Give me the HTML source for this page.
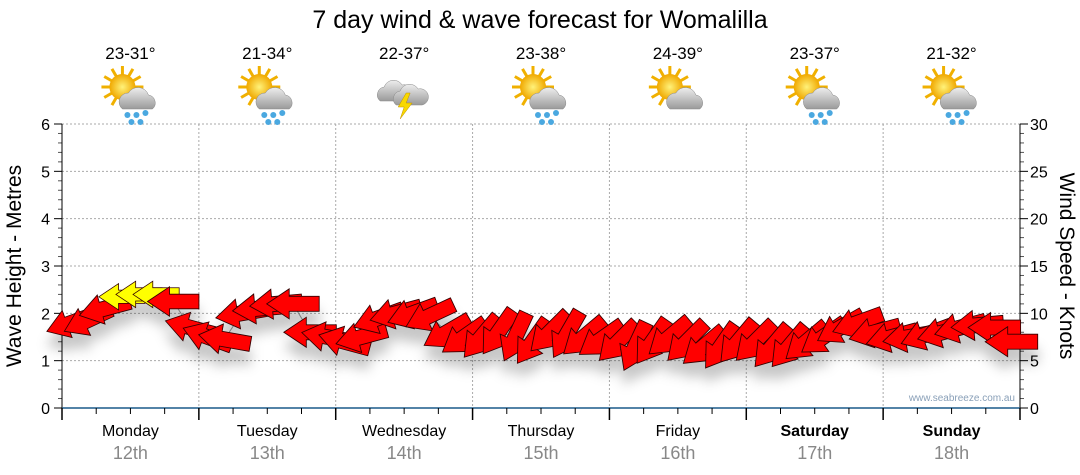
<!DOCTYPE html>
<html><head><meta charset="utf-8"><style>
body{margin:0;background:#fff;}
svg{font-family:"Liberation Sans","DejaVu Sans",sans-serif;display:block}
</style></head><body>
<svg id="c" width="1080" height="475" viewBox="0 0 1080 475">
<defs>
<filter id="sh" x="-50%" y="-50%" width="200%" height="250%"><feDropShadow dx="0" dy="14" stdDeviation="6" flood-color="#000" flood-opacity="0.22"/></filter>
<radialGradient id="sun" cx="50%" cy="50%" r="50%"><stop offset="0" stop-color="#fff27a"/><stop offset="1" stop-color="#f0a800"/></radialGradient>
<linearGradient id="cloud" x1="0" y1="0" x2="0" y2="1"><stop offset="0" stop-color="#eee"/><stop offset="1" stop-color="#9a9a9a"/></linearGradient>
</defs>
<text x="540" y="28" text-anchor="middle" font-size="25">7 day wind &amp; wave forecast for Womalilla</text>
<g id="grid"></g><g id="axes"></g><g id="header"></g>
<text transform="translate(21,266) rotate(-90)" text-anchor="middle" font-size="21">Wave Height - Metres</text>
<text transform="translate(1060,266) rotate(90)" text-anchor="middle" font-size="21">Wind Speed - Knots</text>
<text x="1015" y="401" text-anchor="end" font-size="10" fill="#8aa0b8">www.seabreeze.com.au</text>
<g id="series"></g>
</svg>
<script>
const days=["Monday","Tuesday","Wednesday","Thursday","Friday","Saturday","Sunday"];
const dates=["12th","13th","14th","15th","16th","17th","18th"];
const temps=["23-31°","21-34°","22-37°","23-38°","24-39°","23-37°","21-32°"];
const icons=["sunrain","sunrain","storm","sunrain","suncloud","sunrain","sunrain"];
const waveTicks=[0,1,2,3,4,5,6];
const windTicks=[0,5,10,15,20,25,30];
const waveHeight=[1.8,1.85,2.1,2.35,2.4,2.4,2.25,1.7,
1.5,1.45,2.0,2.1,2.2,2.2,1.6,1.5,
1.4,1.5,1.9,2.0,2.0,1.95,1.6,1.5,
1.5,1.6,1.5,1.4,1.6,1.55,1.5,1.45,
1.4,1.3,1.4,1.5,1.4,1.3,1.3,1.4,
1.4,1.3,1.3,1.4,1.5,1.7,1.8,1.6,
1.5,1.5,1.55,1.6,1.7,1.75,1.7,1.4];
const windDir=[-20,-25,-15,0,0,0,0,15,
20,10,-10,-5,-5,0,0,10,
15,-15,-20,-15,-20,-25,-30,-35,
-50,-55,-65,-55,-45,-60,-40,-35,
-45,-65,-55,-40,-45,-40,-55,-50,
-45,-50,-50,-40,-35,-30,-20,-15,
-15,-10,-20,-15,-15,-5,0,0];
const windSpeed=[10,11,12,6,6,6,11,11,
11,12,12,12,12,12,12,11,
12,12,12,12,12,12,12,12,
12,12,12,12,12,12,12,12,
12,12,12,12,12,12,12,12,
12,12,12,12,12,12,12,12,
12,12,12,12,12,12,12,12];

const NS="http://www.w3.org/2000/svg";
const X0=62,X1=1020,Y0=408,Y1=124;
const dayW=(X1-X0)/7;
const yW=v=>Y0-(v/6)*(Y0-Y1);
const yK=v=>Y0-(v/30)*(Y0-Y1);
const xT=i=>X0+(i+0.5)*dayW/8;
function mk(t,a,p){const e=document.createElementNS(NS,t);for(const k in a)e.setAttribute(k,a[k]);(p||document.getElementById('c')).appendChild(e);return e;}
const grid=document.getElementById('grid'),axes=document.getElementById('axes'),hdr=document.getElementById('header'),ser=document.getElementById('series');
waveTicks.forEach(v=>{
 if(v>0){const g=mk('line',{x1:X0,x2:X1,y1:yW(v),y2:yW(v),stroke:'#aaa','stroke-dasharray':'2,2'},grid);
 
 }
 const t=mk('text',{x:X0-12,y:yW(v)+6,'text-anchor':'end','font-size':16},axes);t.textContent=v;
 
 
 mk('line',{x1:X0-8,x2:X0,y1:yW(v),y2:yW(v),stroke:'#000'},axes);
 for(let k=1;k<5&&v<6;k++)mk('line',{x1:X0-4,x2:X0,y1:yW(v+k/5),y2:yW(v+k/5),stroke:'#555'},axes);
});
windTicks.forEach(v=>{
 const t=mk('text',{x:X1+10,y:yK(v)+6,'font-size':16},axes);t.textContent=v;
 
 
 mk('line',{x1:X1,x2:X1+8,y1:yK(v),y2:yK(v),stroke:'#000'},axes);
 for(let k=1;k<5&&v<30;k++)mk('line',{x1:X1,x2:X1+4,y1:yK(v+k),y2:yK(v+k),stroke:'#555'},axes);
});
mk('line',{x1:X0,x2:X0,y1:Y1,y2:Y0,stroke:'#000'},axes);
mk('line',{x1:X1,x2:X1,y1:Y1,y2:Y0,stroke:'#000'},axes);
mk('line',{x1:X0,x2:X1,y1:Y0,y2:Y0,stroke:'#1a5a8a','stroke-width':1.5},axes);
for(let d=0;d<=7;d++){
 const x=X0+d*dayW;
 if(d>0&&d<7){const g=mk('line',{x1:x,x2:x,y1:Y1,y2:Y0,stroke:'#aaa','stroke-dasharray':'2,2'},grid);
 
 }
 mk('line',{x1:x,x2:x,y1:Y0,y2:Y0+12,stroke:'#000','stroke-width':1.5},axes);
 if(d<7)for(let q=1;q<4;q++)mk('line',{x1:x+q*dayW/4,x2:x+q*dayW/4,y1:Y0,y2:Y0+6,stroke:'#000'},axes);
}
days.forEach((d,i)=>{
 const cx=X0+(i+0.5)*dayW;
 const t=mk('text',{x:cx,y:436,'text-anchor':'middle','font-size':16,'font-weight':i>=5?'bold':'normal'},axes);t.textContent=d;
 
 
 const t2=mk('text',{x:cx,y:459,'text-anchor':'middle','font-size':18,fill:'#888'},axes);t2.textContent=dates[i];
 
 
 const t3=mk('text',{x:cx,y:59,'text-anchor':'middle','font-size':17},hdr);t3.textContent=temps[i];
 
 
 const g=mk('g',{transform:`translate(${cx},95)`},hdr);
 
 
 const ic=icons[i];
 if(ic!=='storm'){
  for(let r=0;r<12;r++){const a=r*Math.PI/6;mk('line',{x1:-8+Math.cos(a)*12,y1:-8+Math.sin(a)*12,x2:-8+Math.cos(a)*21,y2:-8+Math.sin(a)*21,stroke:'#f0b000','stroke-width':3},g);}
  mk('circle',{cx:-8,cy:-8,r:13,fill:'url(#sun)'},g);
  mk('path',{d:'M-8 14 a9 9 0 0 1 6 -16 a11 11 0 0 1 20 2 a8 8 0 0 1 4 14 z',fill:'url(#cloud)',stroke:'#888','stroke-width':0.5},g);
  if(ic==='sunrain')[[-3,20],[6,20],[15,18],[1,27],[10,27]].forEach(p=>mk('circle',{cx:p[0],cy:p[1],r:3,fill:'#4aa8e0'},g));
 } else {
  mk('path',{d:'M-24 6 a8 8 0 0 1 4 -14 a10 10 0 0 1 18 -2 a8 8 0 0 1 4 16 z',fill:'url(#cloud)',stroke:'#888','stroke-width':0.5},g);
  mk('path',{d:'M-8 10 a8 8 0 0 1 4 -14 a10 10 0 0 1 18 -2 a8 8 0 0 1 4 16 z',fill:'url(#cloud)',stroke:'#888','stroke-width':0.5},g);
  mk('path',{d:'M2 -2 L-6 12 L0 12 L-4 24 L8 8 L2 8 L6 -2 z',fill:'#f8d800',stroke:'#c09000','stroke-width':0.5},g);
 }
});
let pd='';waveHeight.forEach((v,i)=>{pd+=(i?'L':'M')+xT(i)+' '+yW(v);});
const ln=mk('path',{d:pd,fill:'none',stroke:'#999','stroke-width':1},ser);


const ag=mk('g',{filter:'url(#sh)'},ser);
waveHeight.forEach((v,i)=>{
 const sp=windSpeed[i];
 const s=0.95+sp/40;
 const a=mk('path',{d:'M-21 0 L-3 -12 L-3 -6 L21 -6 L21 6 L-3 6 L-3 12 Z',fill:sp<8?'#ffff00':'#ff0000',stroke:'#300','stroke-width':0.7,
  transform:`translate(${xT(i)},${yW(v)}) rotate(${windDir[i]}) scale(${s})`},ag);
 
 
});
</script>
</body></html>
